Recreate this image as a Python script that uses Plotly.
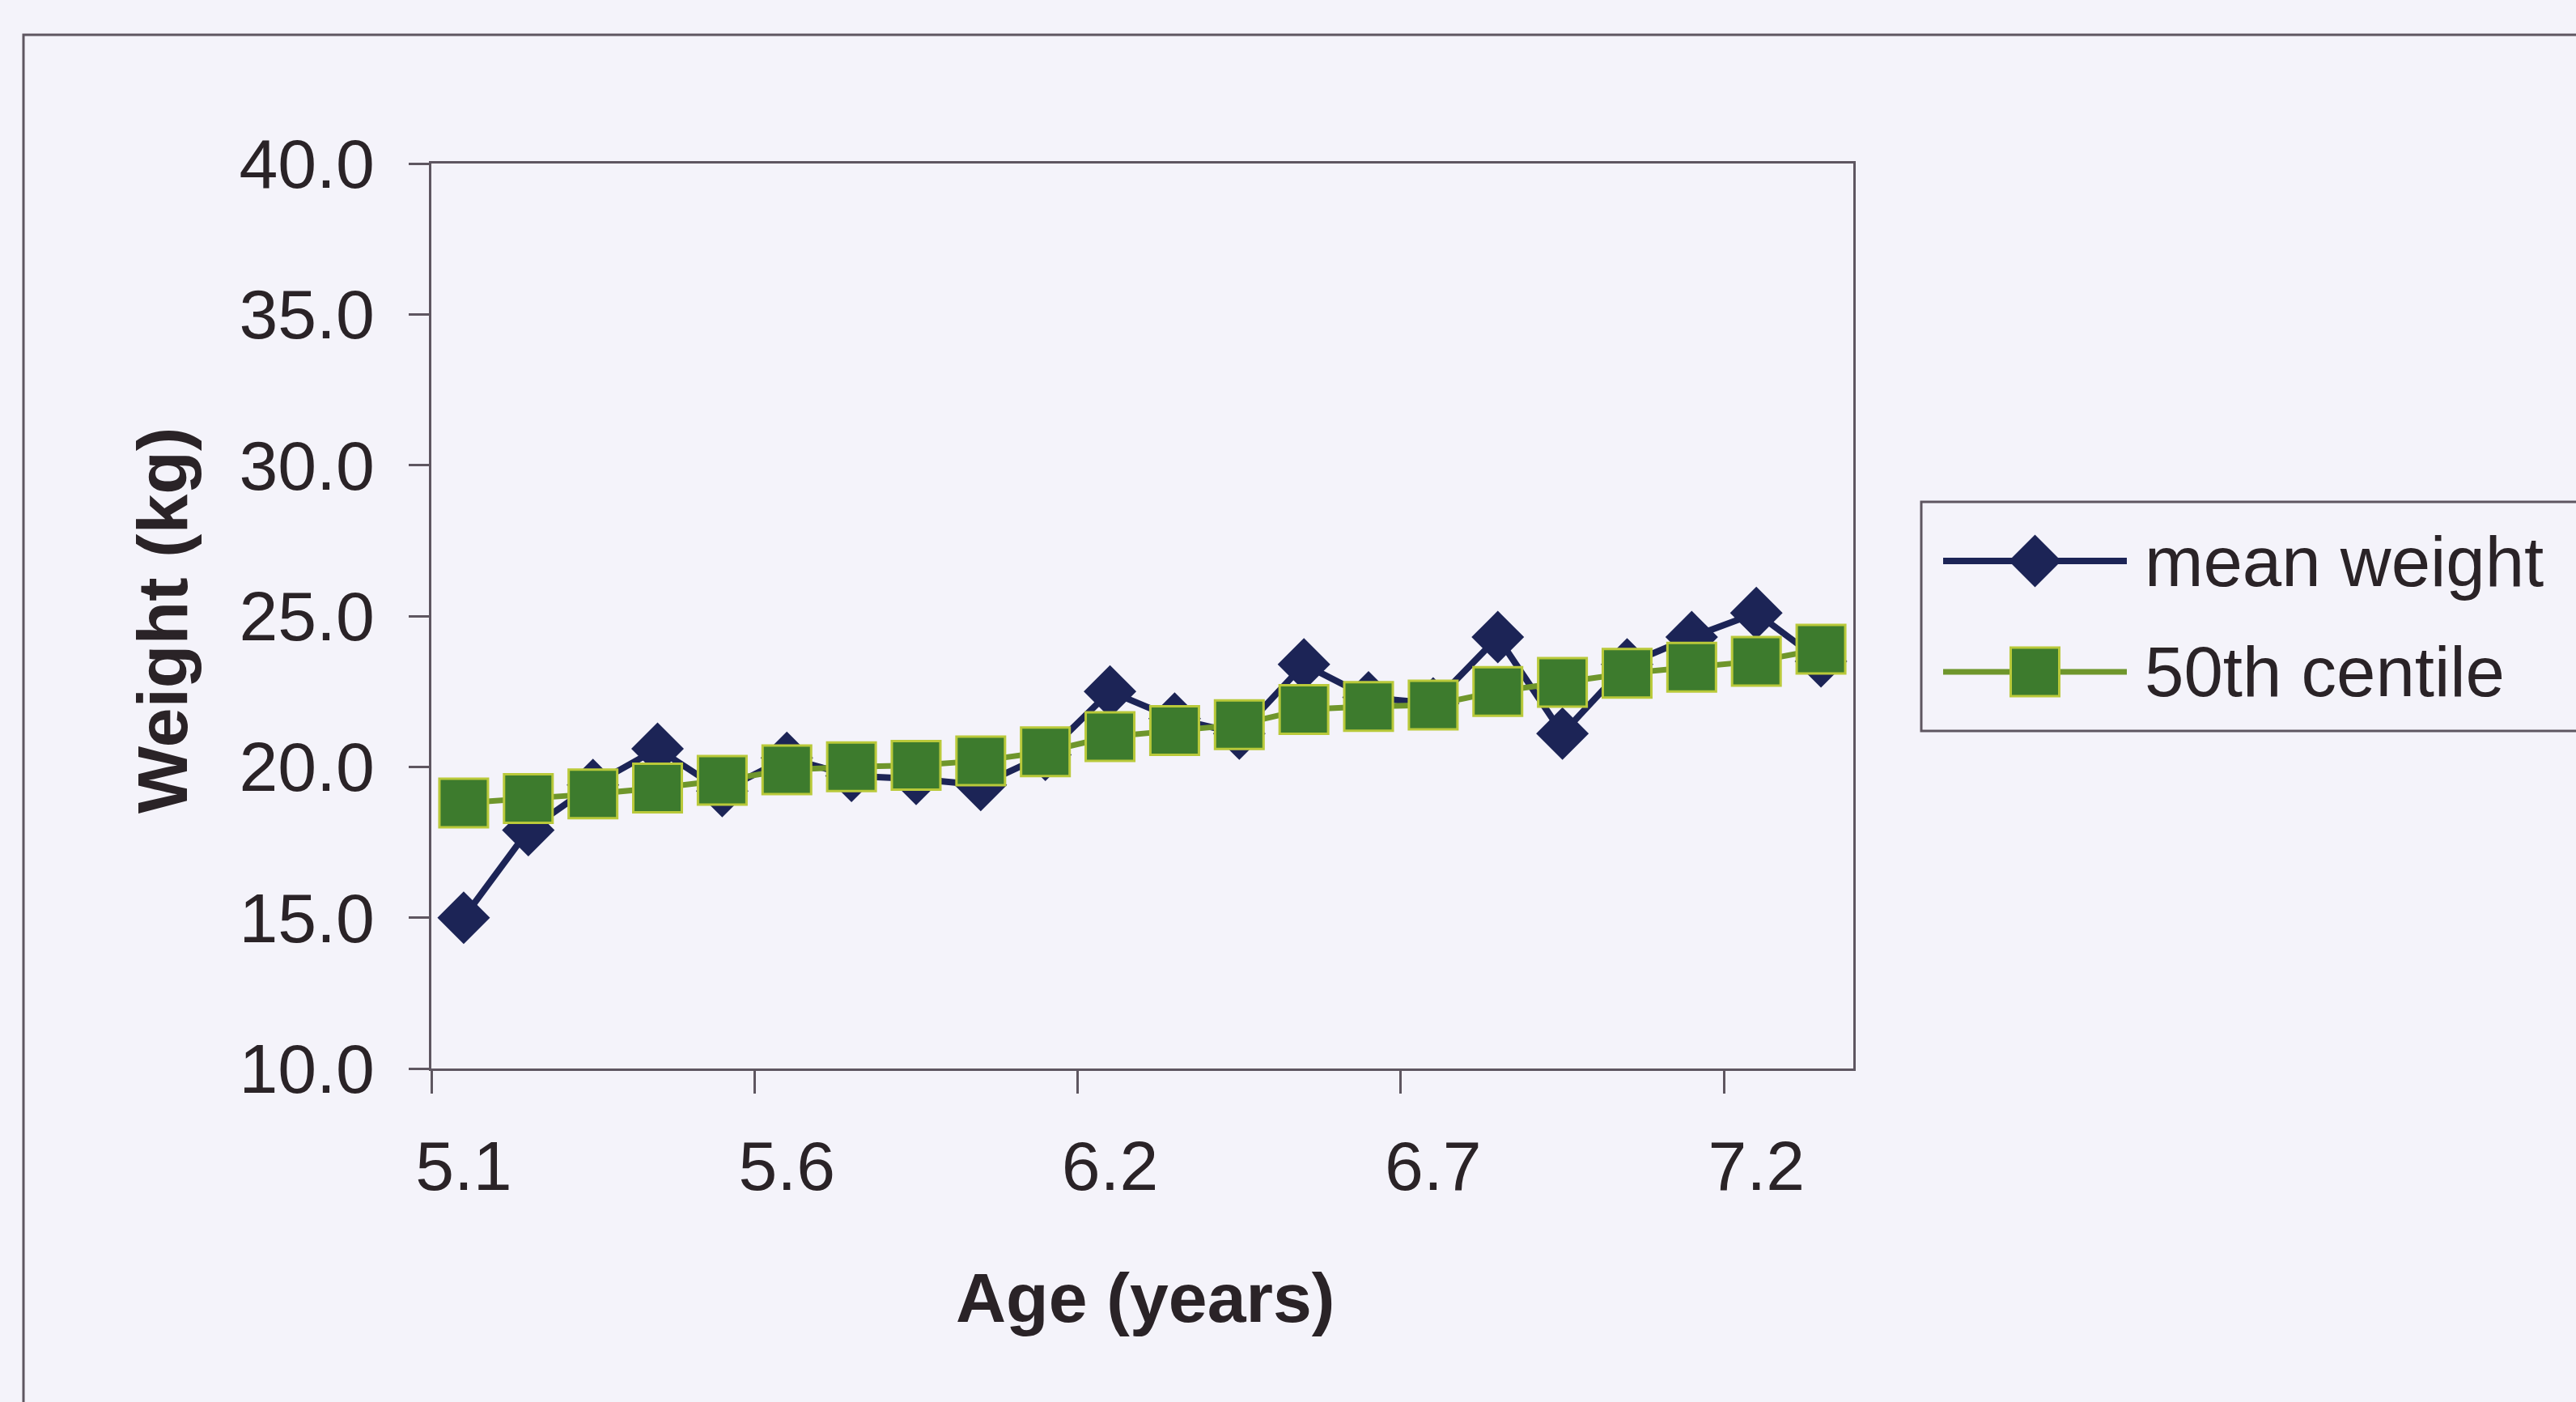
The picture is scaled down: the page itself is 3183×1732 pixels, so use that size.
import plotly.graph_objects as go

# Age categories (years) and weights (kg)
ages = [5.1, 5.2, 5.3, 5.4, 5.5, 5.6, 5.7, 5.8, 6.0, 6.1, 6.2,
        6.3, 6.4, 6.5, 6.6, 6.7, 6.8, 6.9, 7.0, 7.1, 7.2, 7.4]
mean_weight = [15.0, 17.9, 19.4, 20.6, 19.2, 20.3, 19.7, 19.6, 19.4, 20.4, 22.5,
               21.6, 21.1, 23.4, 22.3, 22.1, 24.3, 21.1, 23.4, 24.3, 25.1, 23.5]
centile_50 = [18.8, 18.95, 19.1, 19.3, 19.55, 19.9, 20.0, 20.05, 20.2, 20.5, 21.0,
              21.2, 21.4, 21.9, 22.0, 22.05, 22.5, 22.8, 23.1, 23.3, 23.5, 23.9]
series_names = ["mean weight", "50th centile"]
label_every = 5

W, H = 3183, 1732
FONT = "Liberation Sans, Arial, sans-serif"
BG = "#f4f3fa"
AXIS = "#5e5660"
TEXT = "#2a2327"
NAVY = "#1c2456"
GREEN = "#3d7b2d"
GREEN_LINE = "#6f962c"
GREEN_RIM = "#b9c93a"


def fx(p):
    return p / W


def fy(p):
    return 1 - p / H


idx = list(range(len(ages)))
label_idx = idx[::label_every]

styles = [
    dict(line=dict(color=NAVY, width=8),
         marker=dict(symbol="diamond", size=50, color=NAVY, line=dict(width=0))),
    dict(line=dict(color=GREEN_LINE, width=7),
         marker=dict(symbol="square", size=60, color=GREEN,
                     line=dict(width=3, color=GREEN_RIM))),
]

fig = go.Figure()

for name, values, st in zip(series_names, [mean_weight, centile_50], styles):
    fig.add_trace(go.Scatter(
        x=idx, y=values, name=name, mode="lines+markers",
        line=st["line"], marker=st["marker"],
        showlegend=False, cliponaxis=False,
    ))

# Legend samples drawn on a small overlay axis pair (row 1 on top, row 2 below).
# Axis ranges are padded so the sample lines are not clipped at the edges.
leg_rows = [1, 0]
for row, st in zip(leg_rows, styles):
    fig.add_trace(go.Scatter(
        x=[0, 1], y=[row, row], mode="lines", line=st["line"],
        xaxis="x2", yaxis="y2", showlegend=False, hoverinfo="skip",
    ))
    fig.add_trace(go.Scatter(
        x=[0.5], y=[row], mode="markers", marker=st["marker"],
        xaxis="x2", yaxis="y2", showlegend=False, hoverinfo="skip", cliponaxis=False,
    ))

axis_common = dict(showline=True, linecolor=AXIS, linewidth=3, mirror=True,
                   showgrid=False, zeroline=False, automargin=False,
                   tickfont=dict(family=FONT, size=86, color=TEXT))

# legend sample geometry (px): line from 2401 to 2628, rows at 693 and 830
lx0, lx1, ry_top, ry_bot = 2401, 2628, 693, 830
pad_x = 0.1 * (lx1 - lx0)
pad_y = 0.5 * (ry_bot - ry_top)

fig.update_layout(
    width=W, height=H,
    margin=dict(l=0, r=0, t=0, b=0, pad=0, autoexpand=False),
    paper_bgcolor=BG, plot_bgcolor=BG,
    showlegend=False,
    xaxis=dict(
        domain=[fx(533), fx(2290)],
        range=[-0.5, len(ages) - 0.5],
        tickmode="array", tickvals=label_idx,
        ticktext=[f"{ages[i]:.1f}" for i in label_idx],
        ticks="", ticklabelstandoff=44,
        minor=dict(tickmode="linear", tick0=-0.5, dtick=label_every,
                   ticks="outside", ticklen=28, tickwidth=3, tickcolor=AXIS),
        **axis_common,
    ),
    yaxis=dict(
        domain=[fy(1320), fy(202)],
        range=[10, 40], tickmode="linear", tick0=10, dtick=5,
        tickformat=".1f", ticks="outside", ticklen=25, tickwidth=3,
        tickcolor=AXIS, ticklabelstandoff=25,
        **axis_common,
    ),
    xaxis2=dict(domain=[fx(lx0 - pad_x), fx(lx1 + pad_x)], range=[-0.1, 1.1],
                visible=False, anchor="y2", automargin=False),
    yaxis2=dict(domain=[fy(ry_bot + pad_y), fy(ry_top - pad_y)], range=[-0.5, 1.5],
                visible=False, anchor="x2", automargin=False),
)

# Axis titles
fig.add_annotation(text="<b>Age (years)</b>", x=fx(1415), y=fy(1603),
                   xref="paper", yref="paper", xanchor="center", yanchor="middle",
                   showarrow=False, font=dict(family=FONT, size=86, color=TEXT))
fig.add_annotation(text="<b>Weight (kg)</b>", x=fx(200), y=fy(766),
                   xref="paper", yref="paper", xanchor="center", yanchor="middle",
                   textangle=-90, showarrow=False,
                   font=dict(family=FONT, size=88, color=TEXT))

# Legend labels
for name, py in zip(series_names, [ry_top, ry_bot]):
    fig.add_annotation(text=name, x=fx(2648), y=fy(py), xref="paper", yref="paper",
                       xanchor="left", yanchor="middle", showarrow=False,
                       font=dict(family=FONT, size=87, color=TEXT))

# Legend frame and outer chart frame
fig.add_shape(type="rect", xref="paper", yref="paper",
              x0=fx(2374), x1=fx(3240), y0=fy(903), y1=fy(620),
              line=dict(color=AXIS, width=3), fillcolor="rgba(0,0,0,0)", layer="below")
fig.add_shape(type="rect", xref="paper", yref="paper",
              x0=fx(29), x1=fx(3240), y0=fy(1790), y1=fy(43),
              line=dict(color=AXIS, width=3), fillcolor="rgba(0,0,0,0)", layer="below")

fig.write_html("out.html")
